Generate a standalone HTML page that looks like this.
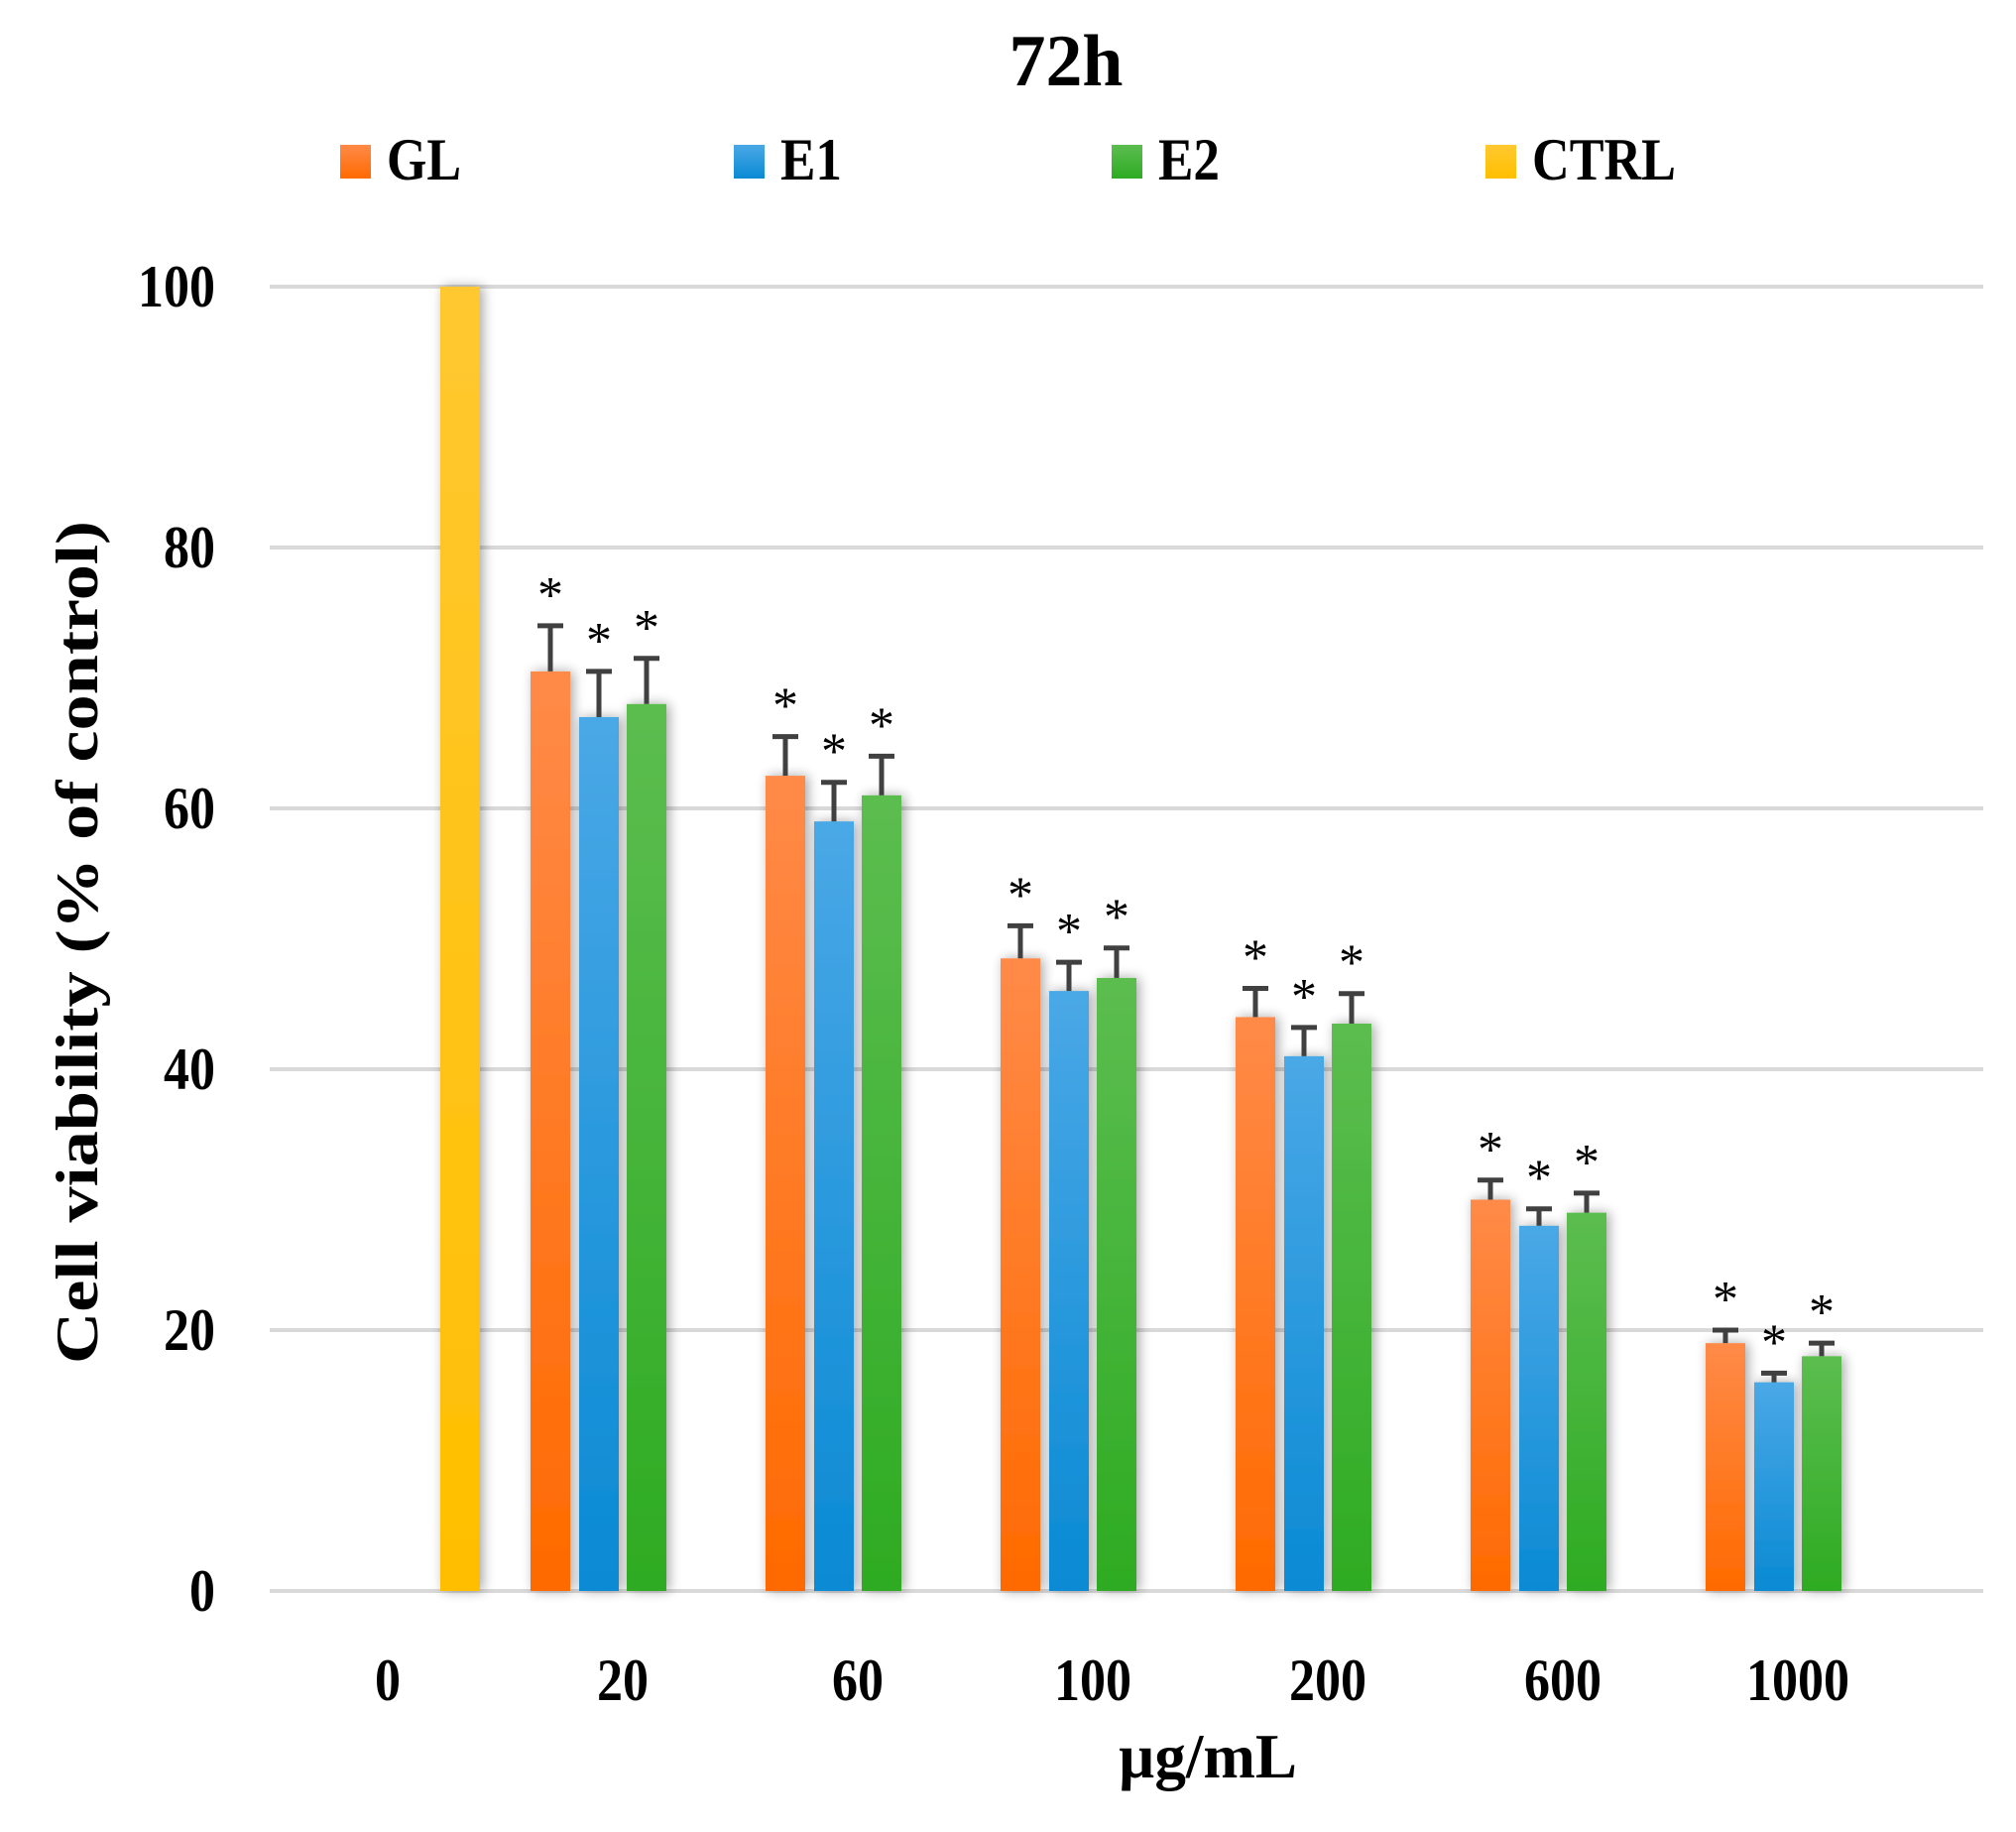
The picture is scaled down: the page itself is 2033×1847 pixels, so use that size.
<!DOCTYPE html>
<html><head><meta charset="utf-8"><style>
html,body{margin:0;padding:0;background:#fff;}
svg{display:block;}
text{font-family:"Liberation Serif",serif;fill:#000;}
</style></head><body>
<svg id="chart" width="2033" height="1847" viewBox="0 0 2033 1847" xmlns="http://www.w3.org/2000/svg">
<defs>
<filter id="sh" x="-40%" y="-10%" width="180%" height="120%"><feGaussianBlur in="SourceAlpha" stdDeviation="6"/><feOffset dx="3" dy="0"/><feComponentTransfer><feFuncA type="linear" slope="0.35"/></feComponentTransfer><feMerge><feMergeNode/><feMergeNode in="SourceGraphic"/></feMerge></filter>
<linearGradient id="gGL" x1="0" y1="0" x2="0" y2="1"><stop offset="0" stop-color="#ff8a48"/><stop offset="1" stop-color="#ff6a00"/></linearGradient>
<linearGradient id="gE1" x1="0" y1="0" x2="0" y2="1"><stop offset="0" stop-color="#4aa8e6"/><stop offset="1" stop-color="#0a8ad4"/></linearGradient>
<linearGradient id="gE2" x1="0" y1="0" x2="0" y2="1"><stop offset="0" stop-color="#5cbd50"/><stop offset="1" stop-color="#2eab22"/></linearGradient>
<linearGradient id="gCT" x1="0" y1="0" x2="0" y2="1"><stop offset="0" stop-color="#ffc830"/><stop offset="1" stop-color="#ffbf00"/></linearGradient>
</defs>
<text x="1075" y="86" font-size="74" font-weight="bold" text-anchor="middle" textLength="115" lengthAdjust="spacingAndGlyphs">72h</text>
<g id="legend"></g>
<g id="grid"></g>
<g id="bars"></g>
<g id="xlabels"></g>
<text transform="translate(98,950) rotate(-90)" font-size="60" font-weight="bold" text-anchor="middle" textLength="850" lengthAdjust="spacingAndGlyphs">Cell viability (% of control)</text>
<text x="1218" y="1792" font-size="64" font-weight="bold" text-anchor="middle" textLength="180" lengthAdjust="spacingAndGlyphs">µg/mL</text>
</svg>
<script>
const categories = ["0","20","60","100","200","600","1000"];
const glValues = [null,70.5,62.5,48.5,44,30,19];
const e1Values = [null,67,59,46,41,28,16];
const e2Values = [null,68,61,47,43.5,29,18];
const ctrlValues = [100,null,null,null,null,null,null];
const glErr = [0,3.5,3,2.5,2.2,1.5,1];
const e1Err = [0,3.5,3,2.2,2.2,1.3,0.7];
const e2Err = [0,3.5,3,2.3,2.3,1.5,1];
const ctrlErr = [0,0,0,0,0,0,0];
const yTicks = [0,20,40,60,80,100];
const seriesNames = ["GL","E1","E2","CTRL"];

const NS="http://www.w3.org/2000/svg";
const y0=1604, y100=289, xLeft=272, xRight=2000, cat0=391, catStep=237;
function yScale(v){return y0-(y0-y100)*v/100;}
function xScale(i){return cat0+catStep*i;}
function mk(tag,attrs,parent){const e=document.createElementNS(NS,tag);for(const k in attrs)e.setAttribute(k,attrs[k]);parent.appendChild(e);return e;}

const grid=document.getElementById('grid');
yTicks.forEach(t=>{
  const l=mk('line',{x1:xLeft,x2:xRight,y1:yScale(t),y2:yScale(t),stroke:'#d9d9d9','stroke-width':4},grid);
  
  
  const s=String(t);
  const tx=mk('text',{x:217,y:yScale(t)+20,'font-size':60,'font-weight':'bold','text-anchor':'end',textLength:s.length*26,lengthAdjust:'spacingAndGlyphs'},grid);
  tx.textContent=s;
  
  
});

const series=[
  {name:'GL',vals:glValues,err:glErr,fill:'url(#gGL)',off:-73},
  {name:'E1',vals:e1Values,err:e1Err,fill:'url(#gE1)',off:-24},
  {name:'E2',vals:e2Values,err:e2Err,fill:'url(#gE2)',off:24},
  {name:'CTRL',vals:ctrlValues,err:ctrlErr,fill:'url(#gCT)',off:73}
];
const bw=40;
const bars=document.getElementById('bars');
series.forEach(s=>{
  s.vals.forEach((v,i)=>{
    if(v===null)return;
    const cx=xScale(i)+s.off;
    const r=mk('rect',{x:cx-bw/2,y:yScale(v),width:bw,height:yScale(0)-yScale(v),fill:s.fill,filter:'url(#sh)'},bars);
    
    
    if(s.err[i]>0){
      const top=yScale(v+s.err[i]);
      const g=mk('g',{stroke:'#404040','stroke-width':5},bars);
      
      
      mk('line',{x1:cx,x2:cx,y1:yScale(v),y2:top},g);
      mk('line',{x1:cx-13,x2:cx+13,y1:top,y2:top},g);
      const a=mk('text',{x:cx,y:top-14,'font-size':52,'text-anchor':'middle'},bars);
      a.textContent='*';
      
      
    }
  });
});

const xl=document.getElementById('xlabels');
categories.forEach((c,i)=>{
  const t=mk('text',{x:xScale(i),y:1714,'font-size':60,'font-weight':'bold','text-anchor':'middle',textLength:c.length*26,lengthAdjust:'spacingAndGlyphs'},xl);
  t.textContent=c;
  
  
});

const legendX=[343,740,1121,1498];
const legendW=[75,62,62,145];
const legendFill=['url(#gGL)','url(#gE1)','url(#gE2)','url(#gCT)'];
const lg=document.getElementById('legend');
seriesNames.forEach((n,i)=>{
  const g=mk('g',{},lg);
  
  
  mk('rect',{x:legendX[i],y:146,width:31,height:34,fill:legendFill[i]},g);
  const t=mk('text',{x:legendX[i]+47,y:181,'font-size':60,'font-weight':'bold',textLength:legendW[i],lengthAdjust:'spacingAndGlyphs'},g);
  t.textContent=n;
});
</script>
</body></html>
